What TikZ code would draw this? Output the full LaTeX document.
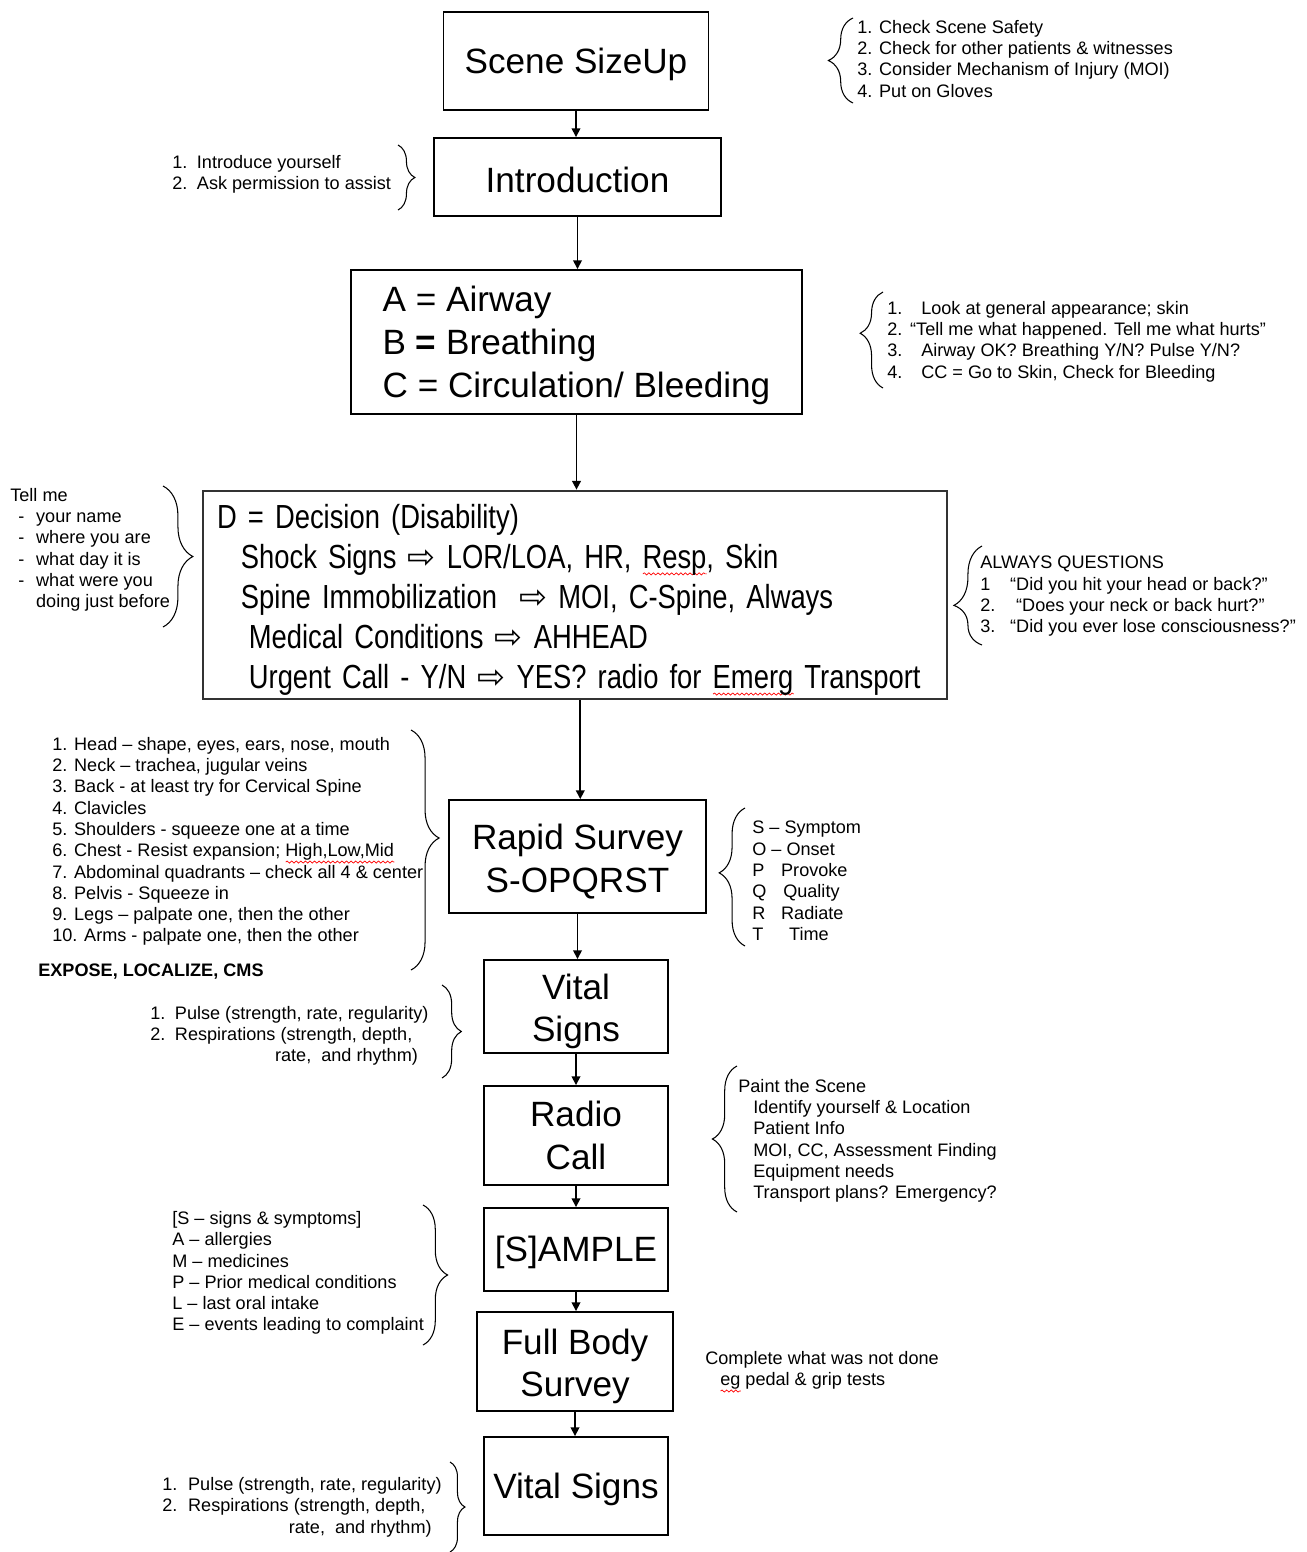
\documentclass[tikz,border=0pt]{standalone}
\usepackage{xcolor}
\usepackage{fontspec}
\setmainfont{Liberation Sans}
\newfontfamily\narrowfont[FakeStretch=0.82, WordSpace=0.6]{Liberation Sans}
\newfontfamily\arrowfont{DejaVu Sans}
\usepackage{tikz}
\usetikzlibrary{arrows.meta, decorations.pathreplacing, decorations.pathmorphing}

% red spell-check squiggle
\newsavebox\wavebox
\newcommand\redwave[1]{\sbox\wavebox{#1}\rlap{\tikz[baseline=0pt]\draw[red, line width=0.4pt,
    decorate, decoration={snake, amplitude=0.6pt, segment length=2.6pt}]
    (0pt,-3pt) -- (\the\wd\wavebox,-3pt);}\usebox\wavebox}
\newcommand\tharr{{\arrowfont ⇨}}
\newcommand\lift[1]{\rule{0pt}{#1}}

\tikzset{
    box/.style={draw, line width=1.1pt, align=center, inner sep=2pt,
        font=\fontsize{20}{24.3}\selectfont, execute at begin node={\rule{0pt}{18pt}}},
    dbox/.style={box, draw=black!80, line width=1.3pt, align=left, inner xsep=8pt, text width=14.32cm,
        font=\narrowfont\fontsize{19}{22.8}\selectfont, execute at begin node={\rule{0pt}{19.5pt}}},
    note/.style={anchor=north west, inner sep=0pt, align=left,
        font=\fontsize{10.3}{12.1}\selectfont},
    arr/.style={-{Triangle[width=5pt,length=5pt]}, line width=0.9pt},
    brc/.style={decorate, line width=0.6pt, decoration={brace, amplitude=#1}}
}

\begin{document}
\begin{tikzpicture}[x=0.02cm, y=-0.02cm]
    \useasboundingbox (0,0) rectangle (1307,1552);

    % Nodes
    \node[box, minimum width=5.3cm, minimum height=1.96cm] (scene) at (576,61) {Scene SizeUp};
    \node[box, minimum width=5.74cm, minimum height=1.56cm] (intro) at (577.5,177) {Introduction};
    \node[box, align=left, minimum width=9.02cm, minimum height=2.88cm] (abc) at (576.5,342)
        {\lift{18.5pt}A = Airway\\ B \textbf{=} Breathing\\ C = Circulation/ Bleeding};
    \node[dbox, minimum height=4.12cm] (dec) at (575,595)
        {\mbox{D = Decision (Disability)}\\
         \mbox{\hspace*{13.6pt}Shock Signs \tharr{} LOR/LOA, HR,  \redwave{Resp}, Skin}\\
         \mbox{\hspace*{13.6pt}Spine Immobilization \ \tharr{} MOI,  C-Spine, Always}\\
         \mbox{\hspace*{18.1pt}Medical Conditions \tharr{} AHHEAD}\\
         \mbox{\hspace*{18.1pt}Urgent Call - Y/N \tharr{} YES? radio for \redwave{Emerg} Transport}};
    \node[box, minimum width=5.14cm, minimum height=2.26cm] (rapid) at (577.5,856.5) {\lift{20pt}Rapid Survey\\ S-OPQRST};
    \node[box, minimum width=3.68cm, minimum height=1.86cm] (vital) at (576,1006.5) {\lift{20pt}Vital\\ Signs};
    \node[box, minimum width=3.68cm, minimum height=1.98cm] (radio) at (576,1135.5) {Radio\\ Call};
    \node[box, minimum width=3.68cm, minimum height=1.66cm] (sample) at (576,1249.5) {[S]AMPLE};
    \node[box, minimum width=3.92cm, minimum height=1.98cm] (fullbody) at (575,1361.5) {\lift{20pt}Full Body\\ Survey};
    \node[box, minimum width=3.68cm, minimum height=1.96cm] (vitaltwo) at (576,1486) {Vital Signs};

    % Flow
    \draw[arr] (scene.south) -- (scene.south |- intro.north);
    \draw[arr] (intro.south) -- (intro.south |- abc.north);
    \draw[arr] (abc.south) -- (abc.south |- dec.north);
    \draw[arr] ([xshift=3pt]dec.south) -- ([xshift=3pt]dec.south |- rapid.north);
    \draw[arr] (rapid.south) -- (rapid.south |- vital.north);
    \draw[arr] (vital.south) -- (vital.south |- radio.north);
    \draw[arr] (radio.south) -- (radio.south |- sample.north);
    \draw[arr] (sample.south) -- (sample.south |- fullbody.north);
    \draw[arr] (fullbody.south) -- (fullbody.south |- vitaltwo.north);

    % Notes
    \node[note] (scenenote) at (857,20)
        {1. Check Scene Safety\\ 2. Check for other patients \& witnesses\\
         3. Consider Mechanism of Injury (MOI)\\ 4. Put on Gloves};
    \node[note] (intronote) at (172,155)
        {\makebox[14pt][l]{1.}Introduce yourself\\ \makebox[14pt][l]{2.}Ask permission to assist};
    \node[note] (abcnote) at (887,301)
        {\makebox[19.3pt][l]{1.}Look at general appearance; skin\\
         \makebox[13pt][l]{2.}``Tell me what happened.  Tell me what hurts''\\
         \makebox[19.3pt][l]{3.}Airway OK? Breathing Y/N? Pulse Y/N?\\
         \makebox[19.3pt][l]{4.}CC = Go  to Skin, Check for Bleeding};
    \node[note] (tellnote) at (10,488)
        {Tell me\\ \hspace*{4.5pt}\makebox[10.2pt][l]{-}your name\\
         \hspace*{4.5pt}\makebox[10.2pt][l]{-}where you are\\
         \hspace*{4.5pt}\makebox[10.2pt][l]{-}what day it is\\
         \hspace*{4.5pt}\makebox[10.2pt][l]{-}what were you\\
         \hspace*{14.7pt}doing just before};
    \node[note] (alwaysnote) at (980,556)
        {ALWAYS QUESTIONS\\
         \makebox[17pt][l]{1}``Did you hit your head or back?''\\
         \makebox[20.4pt][l]{2.}``Does your neck or back hurt?''\\
         \makebox[17pt][l]{3.}``Did you ever lose consciousness?''};
    \node[note] (bodynote) at (52,737)
        {1. Head -- shape, eyes, ears, nose, mouth\\
         2. Neck -- trachea, jugular veins\\
         3. Back - at least try for Cervical Spine\\
         4. Clavicles\\
         5. Shoulders -  squeeze one at a time\\
         6. Chest - Resist expansion; \redwave{High,Low,Mid}\\
         7. Abdominal quadrants -- check all 4 \& center\\
         8. Pelvis - Squeeze in\\
         9. Legs -- palpate one, then the other\\
         10. Arms - palpate one, then the other};
    \node[note, font=\fontsize{10.3}{12.1}\selectfont\bfseries] (exposenote) at (38,963) {EXPOSE, LOCALIZE, CMS};
    \node[note] (opqrstnote) at (752,821)
        {S -- Symptom\\ O -- Onset\\ \makebox[16.4pt][l]{P}Provoke\\
         \makebox[17.6pt][l]{Q}Quality\\ \makebox[16.4pt][l]{R}Radiate\\
         \makebox[21pt][l]{T}Time};
    \node[note] (vitalnote) at (150,1006)
        {\makebox[14pt][l]{1.}Pulse (strength, rate, regularity)\\
         \makebox[14pt][l]{2.}Respirations (strength, depth,\\
         \hspace*{71pt}rate,\ \ and rhythm)};
    \node[note] (radionote) at (738,1079)
        {Paint the Scene\\ \hspace*{8.5pt}Identify yourself \& Location\\
         \hspace*{8.5pt}Patient Info\\ \hspace*{8.5pt}MOI,  CC, Assessment Finding\\
         \hspace*{8.5pt}Equipment needs\\ \hspace*{8.5pt}Transport plans? Emergency?};
    \node[note] (samplenote) at (172,1211)
        {[S -- signs \& symptoms]\\ A -- allergies\\ M -- medicines\\
         P -- Prior medical conditions\\ L -- last oral intake\\
         E -- events leading to complaint};
    \node[note] (fullnote) at (705,1351)
        {Complete what was not done\\ \hspace*{8.5pt}\redwave{eg} pedal \& grip tests};
    \node[note] (vitaltwonote) at (162,1477)
        {\makebox[14.7pt][l]{1.}Pulse (strength, rate, regularity)\\
         \makebox[14.7pt][l]{2.}Respirations (strength, depth,\\
         \hspace*{72pt}rate,\ \ and rhythm)};

    % Braces
    \draw[brc=14pt] (853,103) -- (853,18);
    \draw[brc=9.6pt] (398,145) -- (398,210);
    \draw[brc=13pt, decoration={aspect=0.57}] (883,388) -- (883,292);
    \draw[brc=17pt] (163,486) -- (163,627);
    \draw[brc=16pt, decoration={aspect=0.4}] (982,645) -- (982,546);
    \draw[brc=16pt, decoration={aspect=0.45}] (411,730) -- (411,970);
    \draw[brc=14.7pt, decoration={aspect=0.53}] (745,946) -- (745,808);
    \draw[brc=11pt] (442,985) -- (442,1078);
    \draw[brc=14pt] (737,1212) -- (737,1066);
    \draw[brc=14pt] (423,1205) -- (423,1345);
    \draw[brc=8.5pt] (450,1462) -- (450,1552);
\end{tikzpicture}
\end{document}
